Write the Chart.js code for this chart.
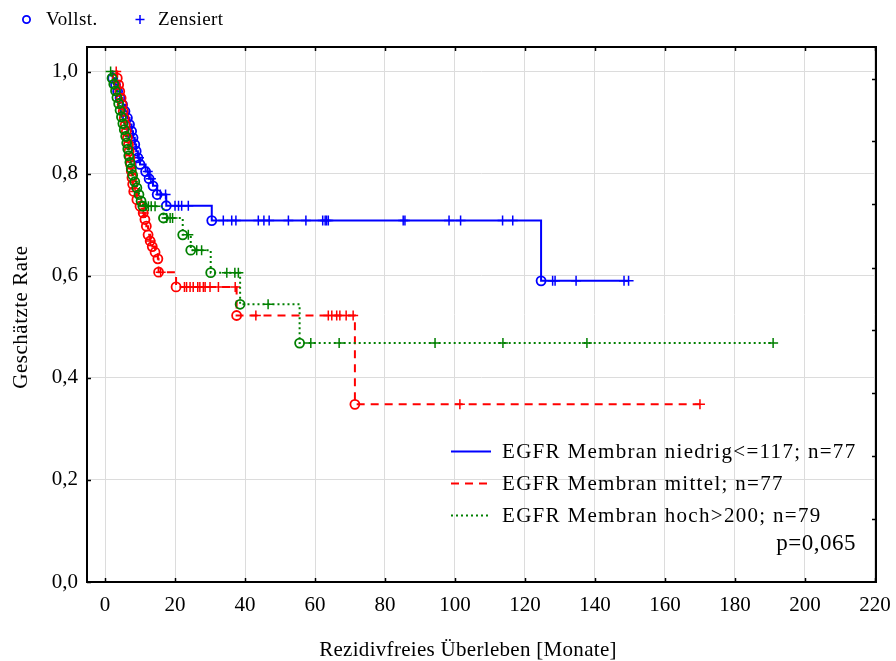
<!DOCTYPE html>
<html>
<head>
<meta charset="utf-8">
<script src="https://cdn.jsdelivr.net/npm/chart.js@4"></script>
<style>
  html, body { margin: 0; padding: 0; background: #fff; }
  #wrap { position: relative; width: 896px; height: 661px; }
</style>
</head>
<body>
<div id="wrap"><canvas id="km" width="896" height="661"></canvas></div>
<script>
// Rezidivfreies Überleben nach EGFR-Membranexpression (Kaplan-Meier)

const seriesLabels = [
  'EGFR Membran niedrig<=117; n=77',
  'EGFR Membran mittel; n=77',
  'EGFR Membran hoch>200; n=79'
];
const markerLabels = ['Vollst.', 'Zensiert'];
const pValueText = 'p=0,065';
const xTitle = 'Rezidivfreies Überleben [Monate]';
const yTitle = 'Geschätzte Rate';

const xTickValues = [0, 20, 40, 60, 80, 100, 120, 140, 160, 180, 200, 220];
const yTickValues = [0, 0.2, 0.4, 0.6, 0.8, 1.0];
const rightTickValues = [0.123, 0.247, 0.370, 0.493, 0.616, 0.740, 0.863, 0.986];

// first observation time per group (niedrig, mittel, hoch)
const startTimes = [1.9, 3.0, 1.5];

// niedrig
const lowEventTimes = [2.2, 3.0, 3.6, 4.3, 5.0, 5.7, 6.4, 7.0, 7.6, 8.0, 8.5, 8.9, 9.4, 10.0, 11.6, 12.6, 13.7, 14.9, 17.5, 30.5, 124.6];
const lowEventSurv  = [0.987, 0.974, 0.961, 0.948, 0.935, 0.922, 0.909, 0.896, 0.883, 0.870, 0.857, 0.844, 0.831, 0.818, 0.804, 0.790, 0.776, 0.759, 0.737, 0.708, 0.590];
const lowCensorTimes = [9.7, 12.2, 13.1, 15.8, 17.3, 20.0, 21.0, 21.9, 23.8, 33.8, 36.2, 37.4, 43.8, 45.4, 46.9, 52.4, 57.4, 62.2, 62.9, 63.3, 63.8, 85.2, 85.7, 98.3, 101.6, 113.6, 116.5, 127.9, 128.6, 134.6, 148.3, 149.6];

// mittel
const midEventTimes = [3.5, 3.9, 4.2, 4.6, 4.9, 5.2, 5.5, 5.8, 6.1, 6.4, 6.7, 6.9, 7.1, 7.3, 7.5, 7.7, 7.9, 8.2, 9.1, 10.0, 10.9, 11.4, 11.8, 12.3, 12.9, 13.5, 14.3, 15.1, 15.3, 20.3, 37.6, 71.4];
const midEventSurv  = [0.987, 0.974, 0.961, 0.948, 0.935, 0.922, 0.909, 0.896, 0.883, 0.870, 0.857, 0.844, 0.831, 0.818, 0.805, 0.792, 0.779, 0.765, 0.749, 0.736, 0.723, 0.710, 0.697, 0.680, 0.668, 0.657, 0.646, 0.633, 0.607, 0.578, 0.522, 0.348];
const midCensorTimes = [3.2, 8.6, 11.0, 13.0, 15.9, 22.7, 23.3, 24.3, 25.2, 26.5, 27.1, 28.1, 28.6, 30.0, 32.4, 37.2, 43.1, 63.8, 64.8, 66.2, 67.1, 68.9, 70.9, 101.4, 170.0];

// hoch
const highEventTimes = [2.0, 2.5, 3.0, 3.4, 3.9, 4.3, 4.7, 5.1, 5.5, 5.9, 6.2, 6.5, 6.8, 7.1, 7.5, 7.9, 8.5, 9.1, 9.7, 10.3, 10.8, 16.7, 22.2, 24.5, 30.2, 38.6, 55.6];
const highEventSurv  = [0.987, 0.975, 0.962, 0.949, 0.937, 0.924, 0.911, 0.898, 0.886, 0.873, 0.860, 0.848, 0.835, 0.822, 0.810, 0.797, 0.784, 0.772, 0.759, 0.746, 0.736, 0.713, 0.680, 0.650, 0.606, 0.544, 0.468];
const highCensorTimes = [1.6, 11.6, 12.4, 13.2, 14.3, 17.6, 18.6, 19.3, 23.8, 26.2, 27.6, 34.8, 37.1, 38.1, 46.6, 58.8, 66.9, 94.3, 113.7, 137.7, 190.9];

const groups = [
  { label: seriesLabels[0], start: startTimes[0], ev: lowEventTimes,  sv: lowEventSurv,  cens: lowCensorTimes,  color: '#0000ff', dash: [],     order: 4 },
  { label: seriesLabels[1], start: startTimes[1], ev: midEventTimes,  sv: midEventSurv,  cens: midCensorTimes,  color: '#ff0000', dash: [8, 6], order: 2 },
  { label: seriesLabels[2], start: startTimes[2], ev: highEventTimes, sv: highEventSurv, cens: highCensorTimes, color: '#008000', dash: [2, 3], order: 0 }
];

// survival estimate just after time t (step function)
function survAt(g, t) {
  let s = 1;
  for (let i = 0; i < g.ev.length; i++) if (g.ev[i] <= t) s = g.sv[i];
  return s;
}

const datasets = [];
groups.forEach(g => {
  const last = Math.max(g.ev[g.ev.length - 1], g.cens[g.cens.length - 1]);
  const curve = [{ x: g.start, y: 1 }]
    .concat(g.ev.map((t, i) => ({ x: t, y: g.sv[i] })))
    .concat([{ x: last, y: g.sv[g.sv.length - 1] }]);
  datasets.push({
    type: 'line', label: g.label, data: curve, stepped: true,
    borderColor: g.color, borderWidth: 2, borderDash: g.dash, borderCapStyle: 'butt',
    pointRadius: 0, fill: false, order: g.order + 1
  });
  datasets.push({
    type: 'scatter', label: g.label + ' events',
    data: g.ev.map((t, i) => ({ x: t, y: g.sv[i] })),
    pointStyle: 'circle', pointRadius: 4.5, borderWidth: 1.8,
    borderColor: g.color, backgroundColor: 'rgba(0,0,0,0)', order: g.order
  });
  datasets.push({
    type: 'scatter', label: g.label + ' censored',
    data: g.cens.map(t => ({ x: t, y: survAt(g, t) })),
    pointStyle: 'cross', pointRadius: 5, borderWidth: 1.5,
    borderColor: g.color, backgroundColor: g.color, order: g.order
  });
});

const serif = 'Liberation Serif, Times New Roman, serif';

const decorPlugin = {
  id: 'decor',
  afterDraw(chart) {
    const { ctx, chartArea: a, scales: { x, y } } = chart;
    ctx.save();
    // frame
    ctx.strokeStyle = '#000';
    ctx.lineWidth = 2;
    ctx.strokeRect(a.left, a.top, a.right - a.left, a.bottom - a.top);
    // inward tick marks
    ctx.lineWidth = 1.5;
    ctx.beginPath();
    xTickValues.forEach(v => {
      const px = Math.round(x.getPixelForValue(v)) + 0.5;
      ctx.moveTo(px, a.bottom); ctx.lineTo(px, a.bottom - 4);
      ctx.moveTo(px, a.top); ctx.lineTo(px, a.top + 4);
    });
    yTickValues.forEach(v => {
      const py = Math.round(y.getPixelForValue(v)) + 0.5;
      ctx.moveTo(a.left, py); ctx.lineTo(a.left + 4, py);
    });
    rightTickValues.forEach(v => {
      const py = Math.round(y.getPixelForValue(v)) + 0.5;
      ctx.moveTo(a.right, py); ctx.lineTo(a.right - 4, py);
    });
    ctx.stroke();

    // axis titles
    ctx.fillStyle = '#000';
    ctx.textBaseline = 'middle';
    ctx.textAlign = 'center';
    ctx.font = '21px ' + serif;
    ctx.letterSpacing = '0.3px';
    ctx.fillText(xTitle, 468, 650);
    ctx.save();
    ctx.translate(21, 317);
    ctx.rotate(-Math.PI / 2);
    ctx.letterSpacing = '0.5px';
    ctx.fillText(yTitle, 0, 0);
    ctx.restore();

    // marker key above the plot
    ctx.strokeStyle = '#0000ff';
    ctx.lineWidth = 1.8;
    ctx.beginPath(); ctx.arc(26.5, 19.5, 3.6, 0, Math.PI * 2); ctx.stroke();
    ctx.lineWidth = 1.5;
    ctx.beginPath();
    ctx.moveTo(140, 15); ctx.lineTo(140, 24);
    ctx.moveTo(135.5, 19.5); ctx.lineTo(144.5, 19.5);
    ctx.stroke();
    ctx.textAlign = 'left';
    ctx.font = '19px ' + serif;
    ctx.letterSpacing = '0.4px';
    ctx.fillText(markerLabels[0], 46, 20);
    ctx.fillText(markerLabels[1], 158, 20);

    // group key inside the plot
    const rows = [451, 483, 515];
    ctx.font = '21px ' + serif;
    ctx.letterSpacing = '1.3px';
    groups.forEach((g, i) => {
      ctx.strokeStyle = g.color;
      ctx.lineWidth = 2;
      ctx.lineCap = 'butt';
      ctx.setLineDash(g.dash);
      ctx.beginPath();
      ctx.moveTo(451, rows[i] + 0.5); ctx.lineTo(491, rows[i] + 0.5);
      ctx.stroke();
      ctx.setLineDash([]);
      ctx.fillStyle = '#000';
      ctx.fillText(g.label, 502, rows[i] + 1);
    });
    ctx.font = '23px ' + serif;
    ctx.letterSpacing = '0.5px';
    ctx.textAlign = 'right';
    ctx.fillText(pValueText, 856, 544);
    ctx.restore();
  }
};

new Chart(document.getElementById('km'), {
  type: 'scatter',
  data: { datasets },
  plugins: [decorPlugin],
  options: {
    responsive: false,
    animation: false,
    devicePixelRatio: 1,
    layout: { padding: { left: 0, top: 47, right: 20, bottom: 0 } },
    plugins: { legend: { display: false }, tooltip: { enabled: false } },
    scales: {
      x: {
        type: 'linear', min: -5.15, max: 220.3,
        afterBuildTicks: s => { s.ticks = xTickValues.map(v => ({ value: v })); },
        afterFit: s => { s.height = 79; s.paddingLeft = 0; s.paddingRight = 0; },
        grid: { color: '#dcdcdc', lineWidth: 1, drawTicks: false },
        border: { display: false },
        ticks: { color: '#000', padding: 11, font: { family: serif, size: 21 }, callback: v => String(v), maxRotation: 0 },
        title: { display: false }
      },
      y: {
        type: 'linear', min: 0, max: 1.048,
        afterBuildTicks: s => { s.ticks = yTickValues.map(v => ({ value: v })); },
        afterFit: s => { s.width = 87; s.paddingTop = 0; s.paddingBottom = 0; },
        grid: { color: '#dcdcdc', lineWidth: 1, drawTicks: false },
        border: { display: false },
        ticks: { color: '#000', padding: 9, font: { family: serif, size: 21 }, callback: v => v.toFixed(1).replace('.', ',') },
        title: { display: false }
      }
    }
  }
});
</script>
</body>
</html>
